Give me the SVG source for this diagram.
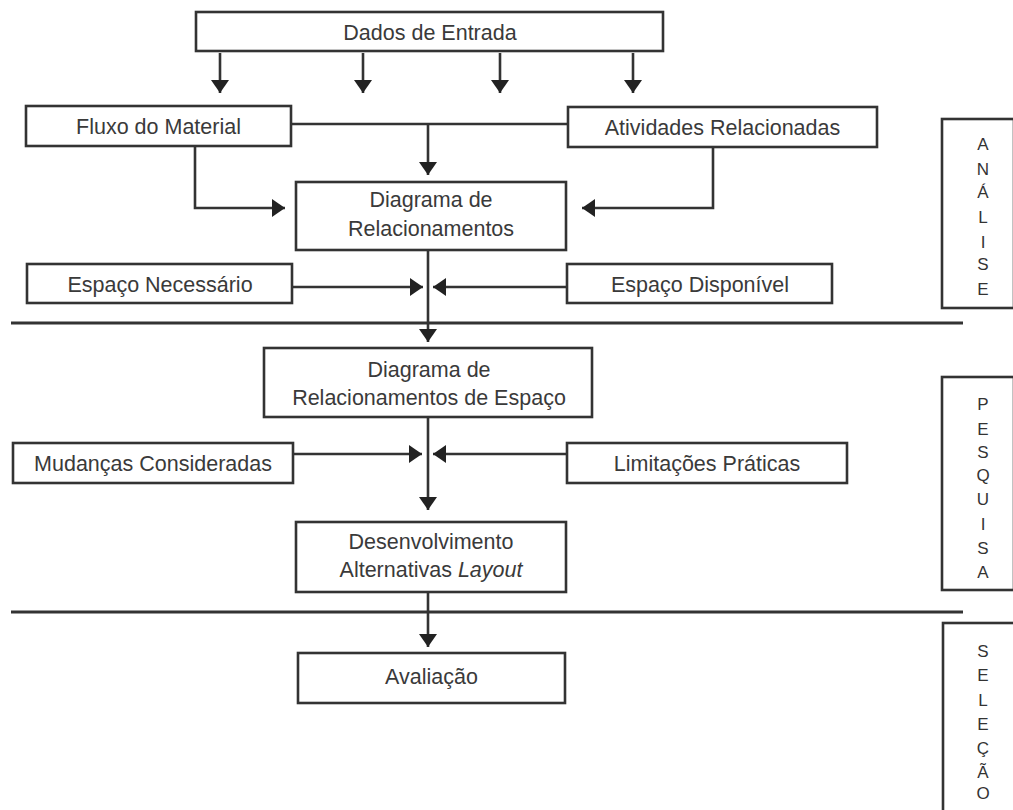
<svg xmlns="http://www.w3.org/2000/svg" width="1013" height="810" viewBox="0 0 1013 810">
  <style>
    .box { fill: #ffffff; stroke: #333333; stroke-width: 2.6; }
    .lbl { font-family: "Liberation Sans", Arial, sans-serif; font-size: 21.5px; fill: #3a3a3a; text-anchor: middle; }
    .side { font-family: "Liberation Sans", Arial, sans-serif; font-size: 17px; fill: #333333; text-anchor: middle; }
    .narrow { font-family: "Liberation Sans Narrow", "Liberation Sans", Arial, sans-serif; }
    .wire { fill: none; stroke: #333333; stroke-width: 2.6; }
    .arrow { fill: none; stroke: #333333; stroke-width: 2.6; marker-end: url(#head); }
    .rule { stroke: #333333; stroke-width: 3; }
  </style>
  <defs>
    <marker id="head" markerUnits="userSpaceOnUse" markerWidth="14" markerHeight="18" refX="13" refY="9" orient="auto">
      <path d="M0,0 L13,9 L0,18 Z" fill="#222222"/>
    </marker>
  </defs>

  <rect width="1013" height="810" fill="#ffffff"/>

  <!-- phase separators -->
  <g id="separators">
    <line class="rule" x1="11" y1="323" x2="963" y2="323"/>
    <line class="rule" x1="11" y1="612" x2="963" y2="612"/>
  </g>

  <!-- connectors -->
  <g id="connectors">
    <line class="arrow" x1="220" y1="53" x2="220" y2="93"/>
    <line class="arrow" x1="363" y1="53" x2="363" y2="93"/>
    <line class="arrow" x1="500" y1="53" x2="500" y2="93"/>
    <line class="arrow" x1="633" y1="53" x2="633" y2="93"/>

    <line class="wire" x1="291" y1="124" x2="568" y2="124"/>
    <line class="arrow" x1="428" y1="124" x2="428" y2="175"/>
    <path class="arrow" d="M195,146 V208 H285"/>
    <path class="arrow" d="M713,147 V208 H582"/>

    <line class="arrow" x1="428" y1="250" x2="428" y2="342"/>
    <line class="arrow" x1="292" y1="287" x2="423" y2="287"/>
    <line class="arrow" x1="567" y1="287" x2="433" y2="287"/>

    <line class="arrow" x1="428" y1="417" x2="428" y2="510"/>
    <line class="arrow" x1="293" y1="454" x2="422" y2="454"/>
    <line class="arrow" x1="567" y1="454" x2="433" y2="454"/>

    <line class="arrow" x1="428" y1="592" x2="428" y2="647"/>
  </g>

  <g id="dados-entrada">
    <rect class="box" x="196" y="12" width="467" height="39"/>
    <text class="lbl" x="430" y="39.5">Dados de Entrada</text>
  </g>

  <g id="fluxo-material">
    <rect class="box" x="26" y="106" width="265" height="40"/>
    <text class="lbl" x="158.5" y="133.5">Fluxo do Material</text>
  </g>

  <g id="atividades-relacionadas">
    <rect class="box" x="568" y="107" width="309" height="40"/>
    <text class="lbl" x="722.5" y="134.5">Atividades Relacionadas</text>
  </g>

  <g id="diagrama-relacionamentos">
    <rect class="box" x="296" y="182" width="270" height="68"/>
    <text class="lbl" x="431" y="207">Diagrama de</text>
    <text class="lbl" x="431" y="236">Relacionamentos</text>
  </g>

  <g id="espaco-necessario">
    <rect class="box" x="27" y="264" width="265" height="39"/>
    <text class="lbl" x="160" y="292">Espaço Necessário</text>
  </g>

  <g id="espaco-disponivel">
    <rect class="box" x="567" y="264" width="265" height="39"/>
    <text class="lbl" x="700" y="292">Espaço Disponível</text>
  </g>

  <g id="diagrama-espaco">
    <rect class="box" x="264" y="348" width="328" height="69"/>
    <text class="lbl" x="429" y="377">Diagrama de</text>
    <text class="lbl" x="429" y="405">Relacionamentos de Espaço</text>
  </g>

  <g id="mudancas-consideradas">
    <rect class="box" x="13" y="443" width="280" height="40"/>
    <text class="lbl" x="153" y="471">Mudanças Consideradas</text>
  </g>

  <g id="limitacoes-praticas">
    <rect class="box" x="567" y="443" width="280" height="40"/>
    <text class="lbl" x="707" y="471">Limitações Práticas</text>
  </g>

  <g id="desenvolvimento">
    <rect class="box" x="296" y="522" width="270" height="70"/>
    <text class="lbl" x="431" y="549">Desenvolvimento</text>
    <text class="lbl" x="431" y="577">Alternativas <tspan font-style="italic">Layout</tspan></text>
  </g>

  <g id="avaliacao">
    <rect class="box" x="298" y="653" width="267" height="50"/>
    <text class="lbl narrow" x="431.5" y="684">Avaliação</text>
  </g>

  <!-- phase labels, stacked letters -->
  <g id="fase-analise">
    <rect class="box" x="942" y="119" width="72" height="189"/>
    <text class="side" x="983" y="150">A</text>
    <text class="side" x="983" y="175">N</text>
    <text class="side" x="983" y="198">Á</text>
    <text class="side" x="983" y="223">L</text>
    <text class="side" x="983" y="248">I</text>
    <text class="side" x="983" y="270">S</text>
    <text class="side" x="983" y="295">E</text>
  </g>

  <g id="fase-pesquisa">
    <rect class="box" x="942" y="377" width="72" height="213"/>
    <text class="side" x="983" y="410">P</text>
    <text class="side" x="983" y="435">E</text>
    <text class="side" x="983" y="458">S</text>
    <text class="side" x="983" y="481">Q</text>
    <text class="side" x="983" y="505">U</text>
    <text class="side" x="983" y="530">I</text>
    <text class="side" x="983" y="554">S</text>
    <text class="side" x="983" y="578">A</text>
  </g>

  <g id="fase-selecao">
    <rect class="box" x="943" y="623" width="72" height="200"/>
    <text class="side narrow" x="983" y="657">S</text>
    <text class="side narrow" x="983" y="681">E</text>
    <text class="side narrow" x="983" y="706">L</text>
    <text class="side narrow" x="983" y="730">E</text>
    <text class="side narrow" x="983" y="754">Ç</text>
    <text class="side narrow" x="983" y="778">Ã</text>
    <text class="side narrow" x="983" y="799">O</text>
  </g>
</svg>
